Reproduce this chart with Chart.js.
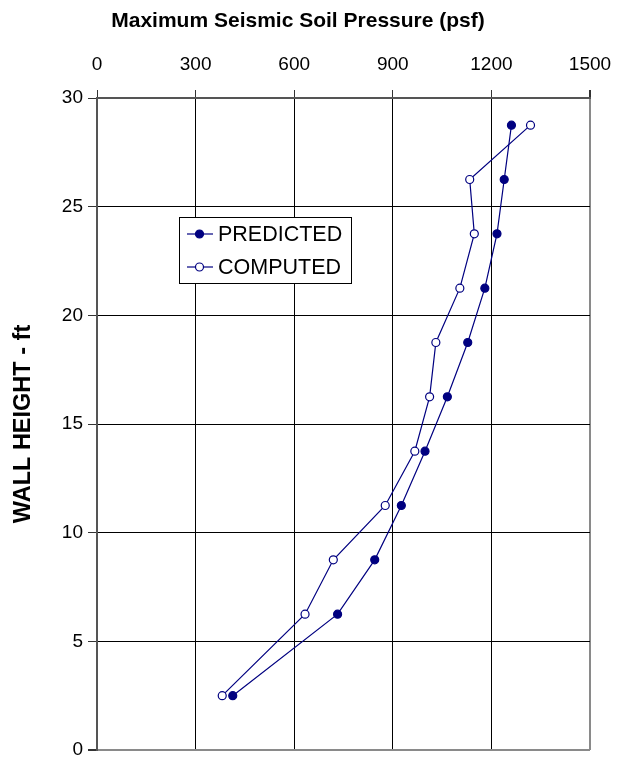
<!DOCTYPE html>
<html>
<head>
<meta charset="utf-8">
<script src="https://cdn.jsdelivr.net/npm/chart.js@4"></script>
<style>
  html, body { margin: 0; padding: 0; background: #fff; }
  #wrap { width: 626px; height: 758px; }
</style>
</head>
<body>
<div id="wrap"><canvas id="chart" width="626" height="758"></canvas></div>
<script>
// wall height (ft) at each data point
const heights = [28.75, 26.25, 23.75, 21.25, 18.75, 16.25, 13.75, 11.25, 8.75, 6.25, 2.5];
// max seismic soil pressure (psf)
const predicted = [1261, 1239, 1217, 1180, 1128, 1066, 998, 926, 845, 732, 413];
const computed = [1319, 1134, 1148, 1104, 1031, 1012, 967, 877, 719, 633, 381];
const seriesNames = ['PREDICTED', 'COMPUTED'];
const xTicks = [0, 300, 600, 900, 1200, 1500];
const yTicks = [0, 5, 10, 15, 20, 25, 30];
const xTitle = 'Maximum Seismic Soil Pressure (psf)';
const yTitle = 'WALL HEIGHT - ft';

const navy = '#000080';
const fontFam = 'Arial, "Liberation Sans", sans-serif';
const toPoints = vals => vals.map((v, i) => ({ x: v, y: heights[i] }));

// top title sits a little left of the plot centre in the original
const topTitle = {
  id: 'topTitle',
  afterDraw(chart) {
    const ctx = chart.ctx;
    ctx.save();
    ctx.font = 'bold 21px ' + fontFam;
    ctx.fillStyle = '#000';
    ctx.textAlign = 'center';
    ctx.textBaseline = 'middle';
    ctx.fillText(xTitle, 298, 21);
    ctx.restore();
  }
};

// legend box drawn inside the plot, like the original
const boxLegend = {
  id: 'boxLegend',
  afterDraw(chart) {
    const ctx = chart.ctx;
    const x0 = 179, y0 = 217, w = 172, h = 66;
    ctx.save();
    ctx.fillStyle = '#fff';
    ctx.fillRect(x0, y0, w, h);
    ctx.strokeStyle = '#000';
    ctx.lineWidth = 1;
    ctx.strokeRect(x0 + 0.5, y0 + 0.5, w, h);
    ctx.font = '21.5px ' + fontFam;
    ctx.textBaseline = 'middle';
    chart.data.datasets.forEach((ds, i) => {
      const y = y0 + 17 + i * 33;
      ctx.strokeStyle = ds.borderColor;
      ctx.lineWidth = 1.2;
      ctx.beginPath();
      ctx.moveTo(x0 + 8, y);
      ctx.lineTo(x0 + 34, y);
      ctx.stroke();
      ctx.beginPath();
      ctx.arc(x0 + 20.5, y, 4, 0, Math.PI * 2);
      ctx.fillStyle = ds.pointBackgroundColor;
      ctx.fill();
      ctx.stroke();
      ctx.fillStyle = '#000';
      ctx.fillText(ds.label, x0 + 39, y + 1);
    });
    ctx.restore();
  }
};

new Chart(document.getElementById('chart'), {
  type: 'scatter',
  data: {
    datasets: [
      {
        label: seriesNames[0],
        data: toPoints(predicted),
        showLine: true,
        borderColor: navy,
        borderWidth: 1.2,
        pointRadius: 4,
        pointBackgroundColor: navy,
        pointBorderColor: navy,
        pointBorderWidth: 1.2
      },
      {
        label: seriesNames[1],
        data: toPoints(computed),
        showLine: true,
        borderColor: navy,
        borderWidth: 1.2,
        pointRadius: 4,
        pointBackgroundColor: '#fff',
        pointBorderColor: navy,
        pointBorderWidth: 1.2
      }
    ]
  },
  options: {
    responsive: false,
    animation: false,
    layout: { padding: { left: 0, right: 36, top: 0, bottom: 8 } },
    plugins: {
      legend: { display: false },
      tooltip: { enabled: false }
    },
    scales: {
      x: {
        type: 'linear',
        position: 'top',
        min: xTicks[0],
        max: xTicks[xTicks.length - 1],
        afterBuildTicks: s => { s.ticks = xTicks.map(v => ({ value: v })); },
        afterFit: s => { s.height = 98; },
        ticks: {
          color: '#000',
          padding: 14,
          maxRotation: 0,
          callback: v => String(v),
          font: { family: fontFam, size: 19 }
        },
        grid: {
          color: c => (c.tick && c.tick.value === xTicks[xTicks.length - 1] ? '#8a8a8a' : '#000'),
          lineWidth: c => (c.tick && c.tick.value === xTicks[xTicks.length - 1] ? 2 : 1),
          tickColor: '#333',
          tickLength: 8
        },
        border: { color: '#555', width: 2 }
      },
      y: {
        type: 'linear',
        min: yTicks[0],
        max: yTicks[yTicks.length - 1],
        afterBuildTicks: s => { s.ticks = yTicks.map(v => ({ value: v })); },
        afterFit: s => { s.width = 97; s.paddingBottom = 0; s.paddingTop = 0; },
        ticks: {
          color: '#000',
          padding: 5,
          callback: v => String(v),
          font: { family: fontFam, size: 19 }
        },
        grid: {
          color: c => (c.tick && c.tick.value === 0 ? '#8a8a8a' : '#000'),
          lineWidth: c => (c.tick && c.tick.value === 0 ? 2 : 1),
          tickColor: '#333',
          tickLength: 9
        },
        border: { color: '#555', width: 2 },
        title: {
          display: true,
          text: yTitle,
          color: '#000',
          padding: { top: 9, bottom: 0 },
          font: { family: fontFam, size: 23.5, weight: 'bold' }
        }
      }
    }
  },
  plugins: [topTitle, boxLegend]
});
</script>
</body>
</html>
